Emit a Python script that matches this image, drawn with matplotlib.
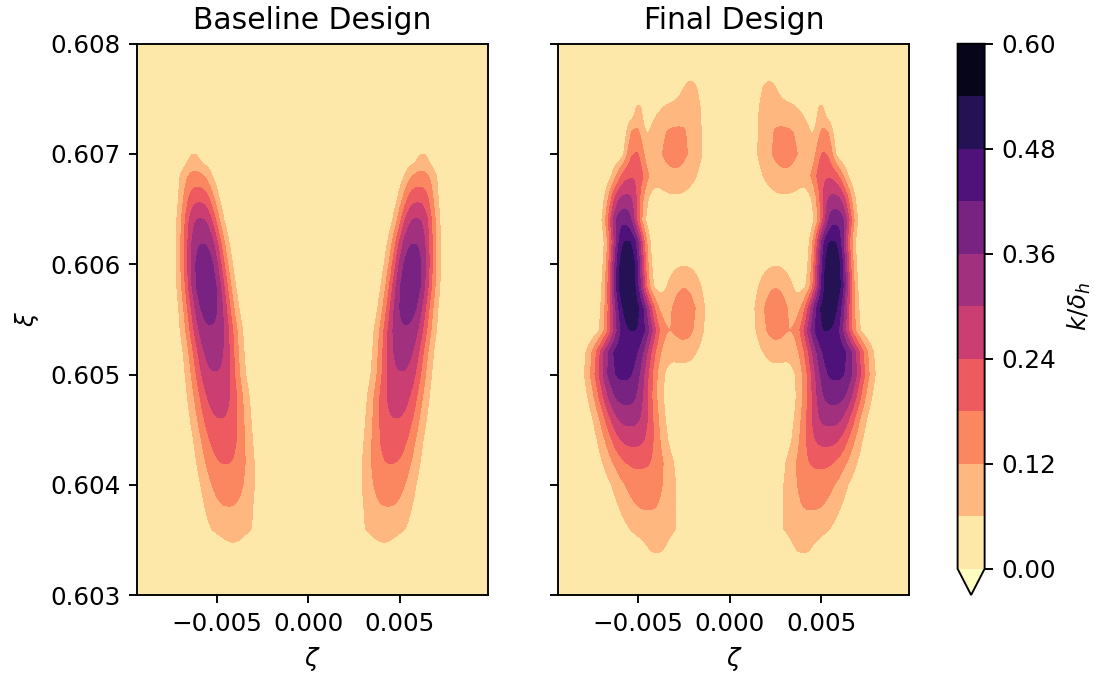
import numpy as np
import matplotlib.pyplot as plt

# rows of the field (xi) and the zeta range of the grid
xi_rows = np.linspace(0.603, 0.608, 26)
zeta_min, zeta_max = -0.00935, 0.0098
background = 0.002

# left lobe, row by row (right lobe is its mirror)
# peak value of k/delta_h, zeta of the ridge, half width (sigma) of the ridge
base_peak = [0, 0, 0.04, 0.085, 0.117, 0.147, 0.179, 0.208, 0.237, 0.265, 0.293, 0.322, 0.35,
             0.38, 0.40, 0.39, 0.355, 0.303, 0.22, 0.135, 0.058, 0, 0, 0, 0, 0]
base_center = [-0.0040, -0.0040, -0.0041, -0.0042, -0.00434, -0.00441, -0.00452, -0.00465,
               -0.00479, -0.00491, -0.00507, -0.00517, -0.00529, -0.00543, -0.00557, -0.00568,
               -0.00577, -0.00589, -0.00598, -0.00612, -0.00625, -0.0063, -0.0063, -0.0063,
               -0.0063, -0.0063]
base_width = [0.0011, 0.0011, 0.0011, 0.00125, 0.00111, 0.00108, 0.00105, 0.00101, 0.00099,
              0.00097, 0.00092, 0.0009, 0.0009, 0.00085, 0.00082, 0.00079, 0.00076, 0.00071,
              0.00068, 0.00068, 0.0006, 0.0006, 0.0006, 0.0006, 0.0006, 0.0006]

final_peak = [0, 0, 0.062, 0.093, 0.122, 0.147, 0.19, 0.255, 0.32, 0.38, 0.43, 0.455, 0.478,
              0.51, 0.53, 0.525, 0.482, 0.40, 0.31, 0.22, 0.16, 0.11, 0.058, 0, 0, 0]
final_center = [-0.0040, -0.0040, -0.0040, -0.0042, -0.0045, -0.0047, -0.0050, -0.0053, -0.0055,
                -0.0057, -0.0058, -0.0057, -0.0053, -0.0054, -0.0056, -0.0056, -0.0056, -0.0058,
                -0.0057, -0.0054, -0.0052, -0.0052, -0.0050, -0.0050, -0.0050, -0.0050]
final_width = [0.0008, 0.0008, 0.0009, 0.0013, 0.00128, 0.00129, 0.00126, 0.00112, 0.00107,
               0.00106, 0.00107, 0.00106, 0.00089, 0.00079, 0.00066, 0.00063, 0.00061, 0.0006,
               0.00063, 0.00065, 0.0004, 0.00035, 0.0004, 0.0004, 0.0004, 0.0004]

# extra inner lobes of the final design (left side, mirrored on the right)
lobe_zeta = [-0.0030, -0.0021, -0.0025]
lobe_xi = [0.60705, 0.6075, 0.60555]
lobe_sz = [0.0011, 0.0004, 0.0008]
lobe_sxi = [0.0003, 0.00015, 0.0003]
lobe_peak = [0.145, 0.07, 0.16]

levels = np.linspace(0, 0.6, 11)
cbar_ticks = [0.0, 0.12, 0.24, 0.36, 0.48, 0.60]

# cross-section shape: flatter than a gaussian, same outer (0.06) edge
q = 2.6
edge_level = 0.06


def build_field(zeta, peak, center, width, lobes=None):
    Z, X = np.meshgrid(zeta, xi_rows)
    p = np.array(peak)[:, None]
    c = np.array(center)[:, None]
    w = np.array(width)[:, None]
    r = 2 * np.log(np.maximum(p, edge_level * 1.001) / edge_level)
    w = w * r ** (0.5 - 1.0 / q)
    K = background + p * (np.exp(-0.5 * np.abs((Z - c) / w) ** q)
                          + np.exp(-0.5 * np.abs((Z + c) / w) ** q))
    if lobes is not None:
        for zc, xc, sz, sx, pk in zip(*lobes):
            for side in (1, -1):
                K += pk * np.exp(-0.5 * ((Z - side * zc) / sz) ** 2 - 0.5 * ((X - xc) / sx) ** 2)
    return K


zeta = np.linspace(zeta_min, zeta_max, 260)
k_base = build_field(zeta, base_peak, base_center, base_width)
k_final = build_field(zeta, final_peak, final_center, final_width,
                      (lobe_zeta, lobe_xi, lobe_sz, lobe_sxi, lobe_peak))

plt.rcParams['font.size'] = 10.4
fig = plt.figure(figsize=(6.4, 675 / 171), dpi=171)
ax1 = fig.add_axes([0.1252, 0.1185, 0.3206, 0.8167])
ax2 = fig.add_axes([0.5103, 0.1185, 0.3206, 0.8167], sharey=ax1)
cax = fig.add_axes([0.8750, 0.1185, 0.0247, 0.8167])

cf = ax1.contourf(zeta, xi_rows, k_base, levels=levels, cmap='magma_r', extend='min')
ax2.contourf(zeta, xi_rows, k_final, levels=levels, cmap='magma_r', extend='min')

for ax, title in zip((ax1, ax2), ('Baseline Design', 'Final Design')):
    ax.set_title(title, fontsize=12.5)
    ax.set_xlabel(r'$\zeta$')
    ax.set_xticks([-0.005, 0.0, 0.005])
    ax.set_xlim(zeta_min, zeta_max)
ax1.set_ylim(0.603, 0.608)
ax1.set_yticks([0.603, 0.604, 0.605, 0.606, 0.607, 0.608])
ax1.set_ylabel(r'$\xi$')
ax2.tick_params(labelleft=False)

cb = fig.colorbar(cf, cax=cax, ticks=cbar_ticks)
cb.ax.set_yticklabels([f'{t:.2f}' for t in cbar_ticks])
cb.set_label(r'$k/\delta_h$')

fig.savefig('out.png', dpi=171)
